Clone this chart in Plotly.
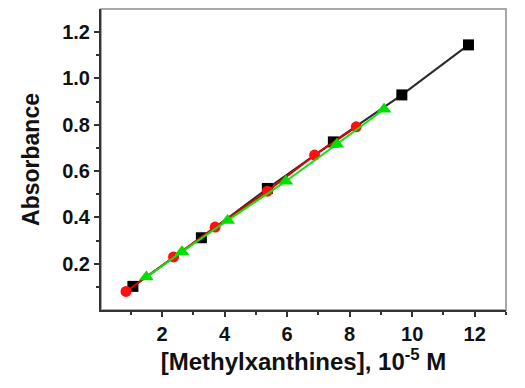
import plotly.graph_objects as go

# Data (x in 10^-5 M, absorbance)
black_x = [1.07, 3.26, 5.37, 7.48, 9.67, 11.8]
black_y = [0.102, 0.312, 0.525, 0.726, 0.929, 1.145]
red_x = [0.85, 2.37, 3.70, 5.37, 6.88, 8.21]
red_y = [0.080, 0.229, 0.358, 0.513, 0.669, 0.791]
green_x = [1.50, 2.64, 4.10, 5.96, 7.59, 9.10]
green_y = [0.142, 0.252, 0.387, 0.556, 0.716, 0.867]

x_ticks = [2, 4, 6, 8, 10, 12]
y_ticks = [0.2, 0.4, 0.6, 0.8, 1.0, 1.2]

fig = go.Figure()
fig.add_trace(go.Scatter(x=black_x, y=black_y, mode="lines+markers",
                         line=dict(color="#2a2a2a", width=2),
                         marker=dict(symbol="square", size=11, color="black")))
fig.add_trace(go.Scatter(x=red_x, y=red_y, mode="lines+markers",
                         line=dict(color="#e00000", width=2),
                         marker=dict(symbol="circle", size=11, color="#ff1010")))
fig.add_trace(go.Scatter(x=green_x, y=green_y, mode="lines+markers",
                         line=dict(color="#10e010", width=2),
                         marker=dict(symbol="triangle-up", size=13, color="#00e000")))

fig.add_shape(type="rect", xref="paper", yref="paper", x0=0, y0=0, x1=1, y1=1,
              line=dict(color="#a8a8a8", width=2), layer="below")

font_family = "Liberation Sans, Arial, sans-serif"
fig.update_layout(
    width=525, height=388,
    margin=dict(l=101, r=19, t=9, b=78),
    paper_bgcolor="white", plot_bgcolor="white",
    showlegend=False,
    font=dict(family=font_family, color="#111111"),
    xaxis=dict(range=[0.05, 13], tickvals=x_ticks, ticks="outside", ticklen=5, tickwidth=2,
               tickcolor="#333333", showline=True, linecolor="#333333", linewidth=2,
               showgrid=False, zeroline=False, automargin=False,
               tickfont=dict(size=20, family=font_family, weight="bold"),
               minor=dict(tickvals=[1, 3, 5, 7, 9, 11, 13], ticks="outside", ticklen=3,
                          tickwidth=2, tickcolor="#333333"),
               title=dict(text="[Methylxanthines], 10<sup>-5</sup> M", standoff=6,
                          font=dict(size=24, family=font_family, weight="bold"))),
    yaxis=dict(range=[0, 1.3], tickvals=y_ticks, tickformat=".1f", ticks="outside", ticklen=5,
               tickwidth=2, tickcolor="#333333", showline=True, linecolor="#333333", linewidth=2,
               showgrid=False, zeroline=False, automargin=False,
               tickfont=dict(size=20, family=font_family, weight="bold"),
               minor=dict(tickvals=[0.1, 0.3, 0.5, 0.7, 0.9, 1.1], ticks="outside", ticklen=3,
                          tickwidth=2, tickcolor="#333333"),
               title=dict(text="Absorbance", standoff=16,
                          font=dict(size=23, family=font_family, weight="bold"))),
)

fig.write_html("out.html", config={"displayModeBar": False},
               post_script="document.body.style.margin='0';")
